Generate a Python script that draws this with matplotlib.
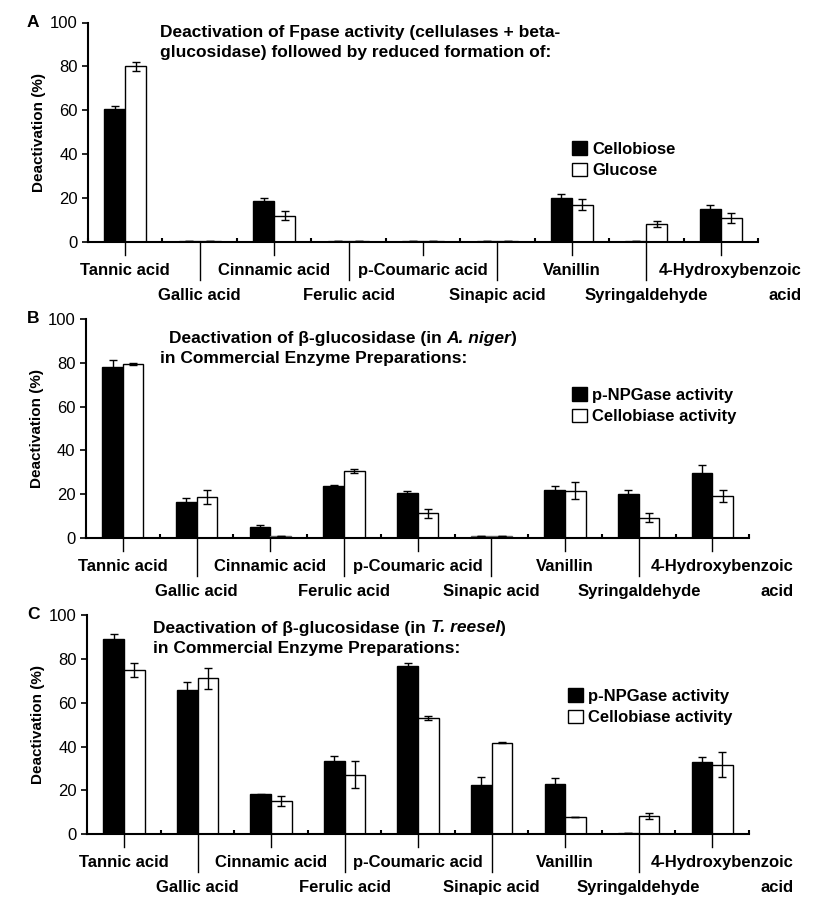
import numpy as np
import matplotlib.pyplot as plt
import matplotlib.transforms as mtransforms

plt.rcParams['font.family'] = ['Liberation Sans', 'DejaVu Sans']

compounds = ["Tannic acid", "Gallic acid", "Cinnamic acid", "Ferulic acid", "p-Coumaric acid",
             "Sinapic acid", "Vanillin", "Syringaldehyde", "4-Hydroxybenzoic\nacid"]

# panel A
cellobiose = [60.5, 0.7, 18.5, 0.7, 0.7, 0.7, 20.0, 0.7, 15.3]
cellobiose_err = [1.5, 0, 1.5, 0, 0, 0, 2.0, 0, 1.4]
glucose = [80.0, 0.7, 12.0, 0.7, 0.7, 0.7, 17.1, 8.3, 10.9]
glucose_err = [2.0, 0, 2.0, 0, 0, 0, 2.6, 1.2, 2.2]

# panel B (A. niger)
npg_b = [78.2, 16.4, 5.3, 24.0, 20.8, 0.8, 22.0, 20.2, 29.5]
npg_b_err = [3.0, 2.0, 0.5, 0.3, 0.8, 0, 2.0, 2.0, 3.8]
cb_b = [79.5, 18.8, 0.8, 30.7, 11.4, 0.8, 21.7, 9.4, 19.4]
cb_b_err = [0.5, 3.0, 0, 1.0, 2.0, 0, 4.0, 2.0, 2.7]

# panel C (T. reesei)
npg_c = [89.1, 66.0, 18.2, 33.4, 76.9, 22.5, 23.0, 0.7, 33.1]
npg_c_err = [2.1, 3.6, 0.4, 2.3, 1.0, 3.8, 2.7, 0, 2.0]
cb_c = [74.8, 71.1, 15.2, 27.2, 53.0, 41.8, 7.9, 8.4, 31.8]
cb_c_err = [3.2, 4.9, 2.3, 6.0, 0.8, 0.3, 0.1, 1.2, 5.6]

panels = [
    dict(letter="A", pos=[0.107, 0.731, 0.814, 0.244], a=cellobiose, ae=cellobiose_err,
         b=glucose, be=glucose_err, leg=["Cellobiose", "Glucose"],
         title=[["Deactivation of Fpase activity (cellulases + beta-"],
                ["glucosidase) followed by reduced formation of:"]],
         title_xy=[(160, 33), (160, 53)], leg_xy=(572, 141)),
    dict(letter="B", pos=[0.1045, 0.402, 0.806, 0.2437], a=npg_b, ae=npg_b_err,
         b=cb_b, be=cb_b_err, leg=["p-NPGase activity", "Cellobiase activity"],
         title=[["Deactivation of β-glucosidase (in ", "A. niger", ")"],
                ["in Commercial Enzyme Preparations:"]],
         title_xy=[(169, 338), (160, 358)], leg_xy=(572, 387)),
    dict(letter="C", pos=[0.106, 0.073, 0.804, 0.2437], a=npg_c, ae=npg_c_err,
         b=cb_c, be=cb_c_err, leg=["p-NPGase activity", "Cellobiase activity"],
         title=[["Deactivation of β-glucosidase (in ", "T. reesel", ")"],
                ["in Commercial Enzyme Preparations:"]],
         title_xy=[(153, 628), (153, 649)], leg_xy=(568, 688)),
]

fig = plt.figure(figsize=(8.23, 9), dpi=100)
W, H = 823, 900
x = np.arange(len(compounds))
w = 0.28

for p in panels:
    ax = fig.add_axes(p["pos"])
    h1 = ax.bar(x - w / 2, p["a"], w, color="black", edgecolor="black", lw=1,
                yerr=p["ae"], capsize=3, error_kw=dict(elinewidth=1, capthick=1, ecolor="black"))
    h2 = ax.bar(x + w / 2, p["b"], w, color="white", edgecolor="black", lw=1,
                yerr=p["be"], capsize=3, error_kw=dict(elinewidth=1, capthick=1, ecolor="black"))
    # the flat near-zero boxes show up grey in the original
    for bar in list(h1) + list(h2):
        if bar.get_height() < 1:
            bar.set_facecolor("#888888")
            bar.set_edgecolor("#666666")
    ax.set_xlim(-0.5, len(compounds) - 0.5)
    ax.set_ylim(0, 100)
    ax.set_yticks([0, 20, 40, 60, 80, 100])
    ax.tick_params(axis="y", labelsize=12, direction="out", length=4, width=1.2)
    ax.set_ylabel("Deactivation (%)", fontsize=11, fontweight="bold", labelpad=3)
    for s in ["top", "right"]:
        ax.spines[s].set_visible(False)
    ax.spines["left"].set_linewidth(1.5)
    ax.spines["bottom"].set_linewidth(1.5)
    ax.set_xticks([])
    ax.set_xticks(np.arange(len(compounds) + 1) - 0.5, minor=True)
    ax.tick_params(axis="x", which="minor", direction="in", length=3, width=1.5)

    trans = mtransforms.blended_transform_factory(ax.transData, ax.transAxes)
    for i, name in enumerate(compounds):
        low = i % 2 == 1
        lead = -38 / 220 if low else -13 / 220
        ax.plot([i, i], [0, lead], color="black", lw=1, transform=trans, clip_on=False)
        ty = -53 / 220 if low else -28 / 220
        parts = name.split("\n")
        if len(parts) > 1:
            first = ax.text(i + 0.13, ty, parts[0], transform=trans, ha="center",
                            va="center", fontsize=12, fontweight="bold")
            ax.annotate(parts[1], xy=(1, 0), xycoords=first, xytext=(0, -25 * 0.72),
                        textcoords="offset points", ha="right", va="bottom",
                        fontsize=12, fontweight="bold")
            continue
        ax.text(i, ty, name, transform=trans, ha="center", va="center",
                fontsize=12, fontweight="bold")

    # panel letter
    top_px = (1 - p["pos"][1] - p["pos"][3]) * H
    fig.text(27 / W, 1 - top_px / H, p["letter"], fontsize=12.5, fontweight="bold",
             ha="left", va="center")

    # title, with italic pieces
    for line, (tx, ty) in zip(p["title"], p["title_xy"]):
        prev = None
        for k, piece in enumerate(line):
            style = "italic" if k == 1 else "normal"
            if prev is None:
                prev = fig.text(tx / W, 1 - ty / H, piece, fontsize=12.5, fontweight="bold",
                                style=style, ha="left", va="center")
            else:
                prev = fig.add_artist(plt.Annotation(piece, xy=(1, 0.5), xycoords=prev,
                                                     ha="left", va="center", fontsize=12.5,
                                                     fontweight="bold", style=style))

    lx, ly = p["leg_xy"]
    ax.legend([h1, h2], p["leg"], loc="upper left", bbox_to_anchor=(lx / W, 1 - ly / H),
              bbox_transform=fig.transFigure, frameon=False, handlelength=0.9,
              handleheight=0.9, handletextpad=0.3, labelspacing=0.35, borderpad=0,
              borderaxespad=0, prop=dict(size=12, weight="bold"))

fig.savefig("out.png", dpi=100)
